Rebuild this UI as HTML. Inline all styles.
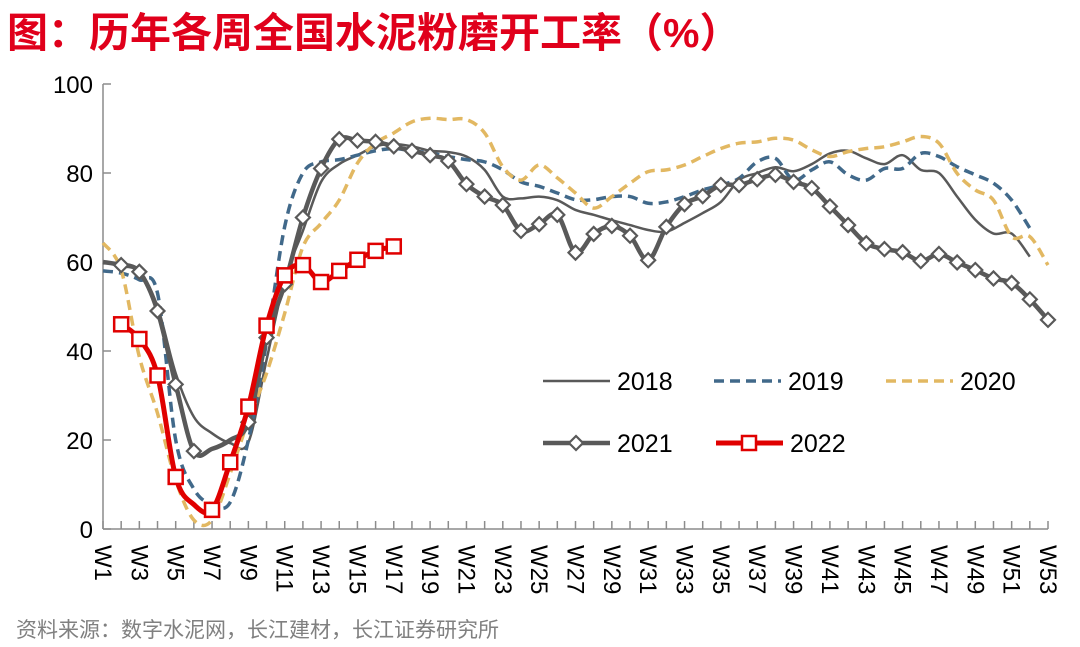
<!DOCTYPE html>
<html><head><meta charset="utf-8"><style>
body{margin:0;background:#fff;width:1080px;height:642px;overflow:hidden}
svg text{font-family:"Liberation Sans","Noto Sans CJK SC",sans-serif}
</style></head><body>
<svg id="c" width="1080" height="642">
<text x="7" y="47" font-size="41" font-weight="bold" fill="#e0001b">图：历年各周全国水泥粉磨开工率（%）</text>
<text x="16" y="637" font-size="21" fill="#808080">资料来源：数字水泥网，长江建材，长江证券研究所</text>
<g id="axes"></g><g id="series"></g><g id="legend"></g>
</svg>
<script>
const weeks = Array.from({length:53},(_,i)=>'W'+(i+1));
const yTicks = [0,20,40,60,80,100];
const s2018 = [59.7,59.7,58,50,35,25.2,21.5,19.3,19.5,38,56,67,78,82,84,86,86.5,86,85,84.7,83.7,80.7,74.7,74.3,74.7,73.9,71.7,70.6,69.4,68.3,67.2,66.8,68.8,71,73.5,78.4,80,81.3,80.4,82,84.4,85,83.3,82,84,80.7,80,74.7,69.5,66.4,66.4,61.2,null];
const s2019 = [58,57.5,56,53,20,9,5.5,6,20,42,68,80,82.5,83,84,85,85.5,85,84.5,83.7,83,82.5,80.7,78,77,75.5,74,74,74.7,74.7,73.2,73.5,74.7,76.2,77.3,78.8,82.5,83.3,78.4,80.7,82.5,79.6,78.4,81,81,84.4,83.7,81.4,79.6,77.7,73.9,67.6,null];
const s2020 = [64.3,58.2,38.7,26,11,2,2,12.5,24.5,35,48.5,63.4,68.7,73.9,82.2,86.7,89,91.5,92.3,92,92,89,81.4,78.4,81.8,78.9,75.5,72.1,74.7,77.7,80.3,80.7,81.8,83.7,85.5,86.7,87,87.8,87.4,85.2,83.7,84.8,85.5,85.9,87,88.2,86.7,79.9,76.2,73.9,65.7,65.7,59.3];
const s2021 = [60,59.3,57.8,49,32.5,17.5,18,20,24,43,55,70,81,87.6,87.3,87,86,85,84,82.7,77.5,74.7,72.8,67,68.5,70.6,62.1,66.3,68.1,65.9,60.4,67.9,73,74.8,77.3,77.3,78.6,79.6,78,76.6,72.5,68.3,64.2,62.9,62.2,60.2,61.8,59.9,58.2,56.3,55.3,51.6,47];
const s2022 = [null,46,42.7,34.5,11.7,5.5,4.3,15,27.5,45.7,57,59.3,55.5,58,60.5,62.5,63.5];
const NS='http://www.w3.org/2000/svg';
const X0=103,X1=1048,Y0=529,Y1=84;
const xs=i=>X0+i*(X1-X0)/(weeks.length-1);
const ys=v=>Y0-(v/100)*(Y0-Y1);
function mk(t,a,p){const e=document.createElementNS(NS,t);for(const k in a)e.setAttribute(k,a[k]);p.appendChild(e);return e;}
const ax=document.getElementById('axes');
let l=mk('line',{x1:X0,y1:Y1,x2:X0,y2:Y0,stroke:'#8c8c8c','stroke-width':1.5},ax);


l=mk('line',{x1:X0,y1:Y0,x2:X1,y2:Y0,stroke:'#8c8c8c','stroke-width':1.5},ax);


yTicks.forEach(v=>{
  mk('line',{x1:X0,y1:ys(v),x2:X0+8,y2:ys(v),stroke:'#8c8c8c','stroke-width':1.5},ax);
  const t=mk('text',{x:93,y:ys(v)+9,'font-size':24,'text-anchor':'end',fill:'#000'},ax);
  t.textContent=v;
  
  
});
weeks.forEach((w,i)=>{
  mk('line',{x1:xs(i),y1:Y0-8,x2:xs(i),y2:Y0,stroke:'#8c8c8c','stroke-width':1.5},ax);
  if(i%2===0){
    const t=mk('text',{x:0,y:0,'font-size':24,fill:'#000',transform:`translate(${xs(i)-8},545) rotate(90)`},ax);
    t.textContent=w;
    
    
  }
});
function pathD(arr){
  const pts=[];arr.forEach((v,i)=>{if(v!=null)pts.push([xs(i),ys(v)]);});
  let d=`M${pts[0][0]},${pts[0][1]}`;
  for(let i=0;i<pts.length-1;i++){
    const p0=pts[i-1]||pts[i],p1=pts[i],p2=pts[i+1],p3=pts[i+2]||p2;
    const c1=[p1[0]+(p2[0]-p0[0])/6,p1[1]+(p2[1]-p0[1])/6];
    const c2=[p2[0]-(p3[0]-p1[0])/6,p2[1]-(p3[1]-p1[1])/6];
    d+=` C${c1[0]},${c1[1]} ${c2[0]},${c2[1]} ${p2[0]},${p2[1]}`;
  }
  return d;
}
const sg=document.getElementById('series');
const defs=[
 {d:s2018,name:'line-2018',st:{stroke:'#595959','stroke-width':2.5}},
 {d:s2019,name:'line-2019',st:{stroke:'#41698a','stroke-width':3.5,'stroke-dasharray':'10,6'}},
 {d:s2020,name:'line-2020',st:{stroke:'#e2b862','stroke-width':3.5,'stroke-dasharray':'10,6'}},
 {d:s2021,name:'line-2021',st:{stroke:'#595959','stroke-width':4.5},m:'diamond',skip:[0,6,7]},
 {d:s2022,name:'line-2022',st:{stroke:'#e00000','stroke-width':5},m:'square',skip:[5]}
];
defs.forEach(s=>{
  const p=mk('path',Object.assign({d:pathD(s.d),fill:'none','stroke-linejoin':'round'},s.st),sg);
  
  
  if(s.m){
    s.d.forEach((v,i)=>{
      if(v==null)return;
      if(s.skip.includes(i))return;
      const x=xs(i),y=ys(v);let e;
      if(s.m==='diamond'){e=mk('polygon',{points:`${x},${y-7} ${x+7},${y} ${x},${y+7} ${x-7},${y}`,fill:'#fff',stroke:'#595959','stroke-width':2.2},sg);}
      else{e=mk('rect',{x:x-7,y:y-7,width:14,height:14,fill:'#fff',stroke:'#e00000','stroke-width':2.5},sg);}
      
      
    });
  }
});
const lg=document.getElementById('legend');
const leg=[
 {x:543,y:381,label:'2018',st:defs[0].st},
 {x:714,y:381,label:'2019',st:defs[1].st},
 {x:886,y:381,label:'2020',st:defs[2].st},
 {x:543,y:443,label:'2021',st:defs[3].st,m:'diamond'},
 {x:716,y:443,label:'2022',st:defs[4].st,m:'square'}
];
leg.forEach(e=>{
  const g=mk('g',{},lg);
  
  
  mk('line',Object.assign({x1:e.x,y1:e.y,x2:e.x+67,y2:e.y},e.st),g);
  const cx=e.x+33;
  if(e.m==='diamond')mk('polygon',{points:`${cx},${e.y-7} ${cx+7},${e.y} ${cx},${e.y+7} ${cx-7},${e.y}`,fill:'#fff',stroke:'#595959','stroke-width':2.2},g);
  if(e.m==='square')mk('rect',{x:cx-7,y:e.y-7,width:14,height:14,fill:'#fff',stroke:'#e00000','stroke-width':2.5},g);
  const t=mk('text',{x:e.x+74,y:e.y+9,'font-size':25,fill:'#000'},g);
  t.textContent=e.label;
});
</script>
</body></html>
